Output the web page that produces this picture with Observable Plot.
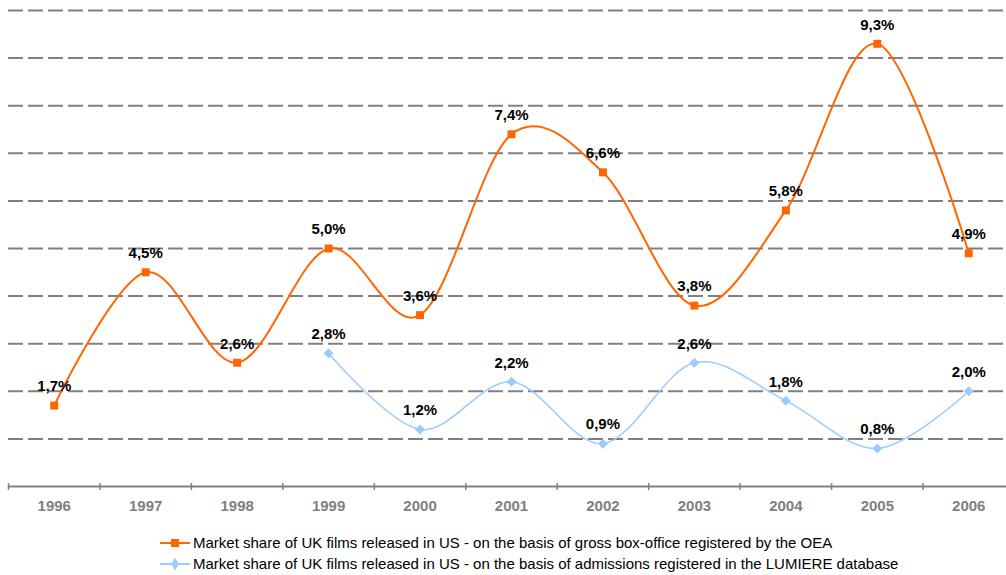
<!DOCTYPE html>
<html>
<head>
<meta charset="utf-8">
<script src="https://cdn.jsdelivr.net/npm/d3@7"></script>
<script src="https://cdn.jsdelivr.net/npm/@observablehq/plot@0.6"></script>
<style>
  body { margin: 0; background: #fff; font-family: "Liberation Sans", Arial, sans-serif; }
  #legend { margin-left: 160px; padding-top: 12px; font-size: 15px; line-height: 21px; color: #000; }
  .item { display: flex; align-items: center; height: 21px; }
  .item svg { margin-right: 3px; }
</style>
</head>
<body>
<div id="chart"></div>
<div id="legend"></div>
<script>
const years = [1996, 1997, 1998, 1999, 2000, 2001, 2002, 2003, 2004, 2005, 2006];
const oeaValues = [1.7, 4.5, 2.6, 5.0, 3.6, 7.4, 6.6, 3.8, 5.8, 9.3, 4.9];
const lumiereYears = [1999, 2000, 2001, 2002, 2003, 2004, 2005, 2006];
const lumiereValues = [2.8, 1.2, 2.2, 0.9, 2.6, 1.8, 0.8, 2.0];
const gridValues = [1, 2, 3, 4, 5, 6, 7, 8, 9, 10];
const seriesNames = [
  "Market share of UK films released in US - on the basis of gross box-office registered by the OEA",
  "Market share of UK films released in US - on the basis of admissions registered in the LUMIERE database"
];
const colors = ["#FF6600", "#99CCFF"];

const oea = years.map((y, i) => ({year: y, value: oeaValues[i]}));
const lum = lumiereYears.map((y, i) => ({year: y, value: lumiereValues[i]}));
const fmt = v => v.toFixed(1).replace(".", ",") + "%";
const boundaries = years.map(y => y - 0.5);

const chart = Plot.plot({
  width: 1006,
  height: 520,
  marginLeft: 8,
  marginRight: -8,
  marginTop: 10,
  marginBottom: 34,
  style: {fontFamily: "'Liberation Sans', Arial, sans-serif", fontSize: "15px", background: "#fff"},
  x: {type: "linear", domain: [1995.5, 2006.5], label: null},
  y: {domain: [0, 10], axis: null},
  marks: [
    Plot.ruleY(gridValues, {stroke: "#808080", strokeWidth: 2, strokeDasharray: "15,5"}),
    Plot.ruleY([0], {stroke: "#808080", strokeWidth: 2}),
    Plot.axisX(boundaries, {tickSize: 7, dy: -3, text: null, label: null, stroke: "#808080", strokeWidth: 1.5}),
    Plot.axisX(years, {tickSize: 0, tickPadding: 14, label: null, tickFormat: d => String(d), fill: "#808080", fontWeight: "bold", fontSize: 15}),
    Plot.line(oea, {x: "year", y: "value", stroke: colors[0], strokeWidth: 2, curve: "cardinal"}),
    Plot.dot(oea, {x: "year", y: "value", symbol: "square", r: 4.5, fill: colors[0]}),
    Plot.line(lum, {x: "year", y: "value", stroke: colors[1], strokeWidth: 1.5, curve: "cardinal"}),
    Plot.dot(lum, {x: "year", y: "value", symbol: "diamond2", r: 4.5, fill: colors[1]}),
    Plot.text(oea, {x: "year", y: "value", text: d => fmt(d.value), dy: -19, fontWeight: "bold", fontSize: 15, fill: "#000"}),
    Plot.text(lum, {x: "year", y: "value", text: d => fmt(d.value), dy: -19, fontWeight: "bold", fontSize: 15, fill: "#000"})
  ]
});
document.getElementById("chart").appendChild(chart);

const legend = d3.select("#legend");
const symbols = [d3.symbolSquare, d3.symbolDiamond];
seriesNames.forEach((name, i) => {
  const item = legend.append("div").attr("class", "item");
  const s = item.append("svg").attr("width", 30).attr("height", 12);
  s.append("line").attr("x1", 0).attr("x2", 30).attr("y1", 6).attr("y2", 6)
    .attr("stroke", colors[i]).attr("stroke-width", 2);
  s.append("path").attr("d", d3.symbol(symbols[i], i === 0 ? 64 : 50)())
    .attr("transform", "translate(15,6)").attr("fill", colors[i]);
  item.append("span").text(name);
});
</script>
</body>
</html>
